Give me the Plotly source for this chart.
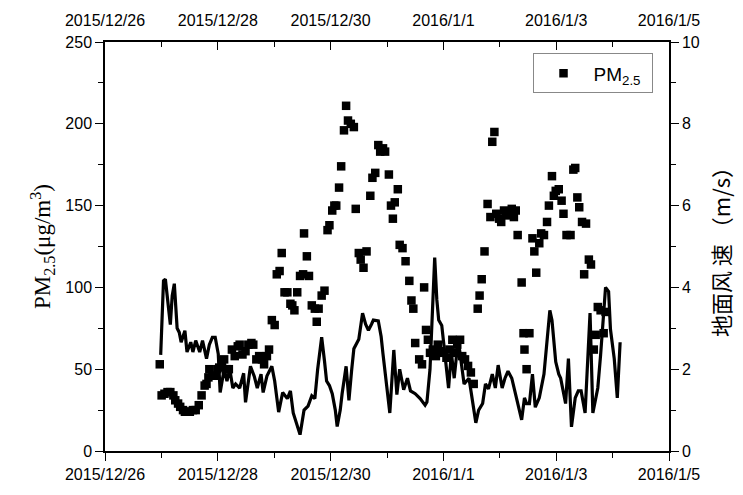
import pandas as pd
import plotly.graph_objects as go

# ---- data (hours since 2015-12-26 00:00) ----
pm_hours = [23.3, 24.1, 25.3, 26.6, 27.8, 29.1, 29.9, 31.1, 32.0, 33.2, 34.0, 35.3, 36.1, 37.4, 38.6,
            39.9, 41.1, 42.4, 43.2, 44.0, 44.4, 45.7, 46.9, 47.8, 48.6, 49.8, 50.7, 51.9, 52.7, 54.0,
            55.2, 56.5, 57.3, 58.5, 59.8, 61.0, 62.3, 63.1, 64.4, 65.6, 66.8, 67.7, 68.9, 69.8, 71.0,
            72.2, 73.1, 74.3, 75.2, 76.4, 77.6, 78.9, 79.7, 80.6, 81.8, 83.0, 84.3, 84.7, 85.9, 86.8,
            88.0, 89.3, 90.1, 90.9, 92.2, 93.4, 94.7, 95.5, 96.7, 97.6, 98.4, 99.6, 100.5, 101.7, 102.6,
            103.4, 104.6, 105.9, 106.7, 108.0, 108.8, 110.0, 111.3, 112.9, 113.8, 115.0, 116.3, 117.1,
            118.3, 119.2, 120.8, 121.7, 122.5, 123.3, 124.6, 125.4, 126.6, 127.9, 129.5, 130.4, 131.2,
            132.0, 133.7, 134.9, 135.8, 136.6, 137.4, 138.3, 139.5, 140.8, 141.6, 142.8, 144.1, 145.3,
            146.6, 147.8, 149.1, 149.9, 151.1, 152.0, 153.2, 154.5, 155.7, 156.9, 158.6, 159.4, 160.3,
            161.5, 162.8, 164.0, 164.8, 165.7, 166.5, 167.7, 168.6, 169.8, 170.7, 171.9, 173.1, 174.0,
            174.8, 175.6, 177.3, 178.1, 178.5, 179.4, 180.6, 181.9, 182.7, 183.5, 184.8, 185.6, 186.8,
            188.1, 188.9, 190.2, 191.0, 191.8, 193.1, 194.3, 195.1, 196.4, 198.1, 199.3, 200.1, 201.0,
            201.8, 203.0, 203.9, 204.7, 205.9, 206.8, 208.0, 208.8, 209.7, 210.9, 212.2, 213.0]
pm25 = [53, 34, 35, 36, 36, 34, 31, 29, 27, 25, 24, 24, 24, 25, 25,
        28, 34, 40, 41, 45, 50, 46, 46, 50, 51, 55, 56, 50, 50, 62,
        58, 64, 65, 59, 61, 65, 66, 65, 56, 58, 56, 53, 58, 62, 80,
        77, 108, 110, 121, 97, 97, 90, 89, 86, 97, 107, 108, 133, 119, 107,
        89, 87, 79, 87, 95, 98, 135, 138, 147, 150, 150, 161, 174, 196, 211,
        202, 200, 198, 148, 121, 117, 112, 122, 156, 167, 170, 187, 183,
        185, 183, 169, 150, 142, 152, 160, 126, 124, 116, 104, 92, 87,
        66, 56, 53, 100, 74, 68, 60, 62, 58, 65, 61, 60, 57,
        62, 68, 60, 65, 68, 58, 56, 52, 48, 41, 87, 95, 105,
        122, 151, 143, 189, 195, 145, 142, 140, 147, 144, 145, 148, 143,
        147, 132, 103, 72, 62, 50, 72, 130, 122, 109, 127, 133, 132,
        140, 150, 168, 156, 159, 160, 153, 145, 132, 132, 172, 173, 155,
        149, 140, 108, 139, 117, 114, 62, 71, 88, 86, 72, 85]

wind_hours = [23.7, 24.9, 25.7, 26.6, 27.8, 28.6, 29.5, 30.7, 31.6, 32.4, 34.0, 34.9, 36.5, 37.4, 38.6,
              40.3, 41.5, 43.2, 44.4, 45.7, 46.9, 48.2, 49.0, 50.7, 51.9, 53.1, 54.4, 55.6, 57.3, 59.0,
              59.8, 61.9, 63.5, 64.8, 66.4, 67.3, 68.9, 71.0, 72.2, 73.9, 75.6, 77.6, 78.9, 80.1, 81.4,
              83.0, 84.7, 86.4, 88.0, 89.3, 90.5, 92.2, 93.4, 94.3, 95.5, 96.7, 98.0, 98.8, 100.1, 100.9,
              102.6, 103.8, 105.0, 105.9, 108.0, 108.8, 109.6, 110.9, 112.1, 113.4, 114.2, 116.3, 117.5,
              118.3, 119.6, 121.2, 122.9, 124.2, 125.4, 127.1, 128.7, 130.0, 132.0, 134.1, 136.2, 137.0,
              138.3, 139.5, 140.3, 141.2, 142.0, 143.3, 144.5, 146.2, 147.4, 148.6, 150.3, 151.6, 152.8,
              154.9, 156.5, 157.8, 159.0, 160.7, 161.9, 163.2, 164.8, 166.1, 167.3, 169.0, 170.2, 171.5,
              173.1, 174.4, 175.6, 177.3, 178.5, 179.4, 180.6, 181.9, 183.1, 184.8, 186.8, 188.1, 189.3,
              190.2, 191.8, 193.1, 193.9, 196.0, 197.2, 198.5, 200.1, 201.4, 202.6, 204.3, 205.5, 206.4,
              207.6, 209.7, 210.9, 212.2, 213.0, 214.3, 215.1, 216.7, 218.0, 219.2]
wind = [2.35, 4.16, 4.2, 3.7, 3.09, 3.8, 4.09, 3.0, 2.9, 2.66, 2.94, 2.42, 2.66, 2.42, 2.7,
        2.42, 2.7, 2.26, 2.6, 2.78, 2.78, 2.37, 1.43, 2.0, 1.71, 2.0, 1.54, 1.64, 1.54, 1.9,
        1.19, 2.07, 1.83, 1.54, 1.88, 1.43, 1.83, 2.07, 1.71, 0.95, 1.43, 1.28, 1.47, 0.93, 0.7,
        0.4, 1.0, 1.1, 1.35, 1.28, 2.0, 2.78, 2.2, 1.71, 1.6, 1.4, 1.0, 0.6, 1.0, 1.4,
        2.07, 1.24, 2.0, 2.5, 2.73, 3.0, 3.37, 3.1, 2.95, 3.1, 3.2, 3.18, 2.8,
        2.37, 1.64, 0.93, 2.47, 1.38, 2.0, 1.5, 1.78, 1.47, 1.4, 1.28, 1.12, 1.2,
        2.0, 3.6, 4.73, 3.7, 3.2, 3.07, 2.4, 1.54, 2.4, 1.78, 2.73, 2.1, 1.64,
        1.78, 1.16, 0.69, 1.0, 1.16, 1.64, 1.52, 1.88, 1.54, 2.1, 1.54, 1.78, 1.95,
        1.78, 1.47, 1.16, 0.76, 1.3, 1.16, 1.16, 1.88, 1.07, 1.3, 1.88, 2.73, 3.44,
        3.2, 2.18, 1.88, 1.78, 1.16, 2.26, 0.59, 1.3, 1.47, 1.47, 0.93, 2.18, 3.37,
        0.93, 1.54, 2.35, 3.44, 4.0, 3.9, 2.97, 2.26, 1.3, 2.66]

start = pd.Timestamp("2015-12-26 00:00")
pm_time = [start + pd.Timedelta(hours=h) for h in pm_hours]
wind_time = [start + pd.Timedelta(hours=h) for h in wind_hours]

x_range = ["2015-12-26", "2016-01-05"]
DAY = 86400000

fig = go.Figure()
fig.add_trace(go.Scatter(
    x=wind_time, y=wind, mode="lines", xaxis="x2", yaxis="y2",
    line=dict(color="black", width=3.2), showlegend=False, hoverinfo="skip"))
fig.add_trace(go.Scatter(
    x=pm_time, y=pm25, mode="markers", name="PM<sub>2.5</sub> ",
    marker=dict(symbol="square", size=8.5, color="black")))

tickfont = dict(family="Liberation Sans, Arial", size=16, color="black")

fig.update_layout(
    width=743, height=495,
    margin=dict(l=105, r=60, t=41, b=33),
    plot_bgcolor="white", paper_bgcolor="white",
    xaxis=dict(range=x_range, type="date", tick0="2015-12-26", dtick=2 * DAY,
               tickformat="%Y/%-m/%-d", ticks="outside", ticklen=8, tickwidth=1.2,
               tickcolor="black", showline=True, linecolor="black", linewidth=1.5,
               showgrid=False, zeroline=False, tickfont=tickfont,
               minor=dict(dtick=DAY, tick0="2015-12-26", ticks="outside", ticklen=5,
                          tickcolor="black", showgrid=False)),
    xaxis2=dict(range=x_range, type="date", overlaying="x", side="top", anchor="y2",
                tick0="2015-12-26", dtick=2 * DAY, tickformat="%Y/%-m/%-d",
                ticks="inside", ticklen=8, tickwidth=1.2, tickcolor="black",
                showline=True, linecolor="black", linewidth=1.5, showgrid=False,
                zeroline=False, tickfont=tickfont, ticklabelstandoff=8,
                minor=dict(dtick=DAY, tick0="2015-12-26", ticks="inside", ticklen=5,
                           tickcolor="black", showgrid=False)),
    yaxis=dict(range=[0, 250], dtick=50, ticks="outside", ticklen=8, tickwidth=1.2,
               tickcolor="black", showline=True, linecolor="black", linewidth=1.5,
               showgrid=False, zeroline=False, tickfont=tickfont,
               minor=dict(dtick=25, ticks="outside", ticklen=5, tickcolor="black",
                          showgrid=False),
               title=dict(text="PM<sub>2.5</sub>(μg/m<sup>3</sup>)",
                          font=dict(family="Liberation Serif, Times New Roman", size=23,
                                    color="black"), standoff=8)),
    yaxis2=dict(range=[0, 10], dtick=2, overlaying="y", side="right", anchor="x2",
                ticks="outside", ticklen=8, tickwidth=1.2, tickcolor="black",
                showline=True, linecolor="black", linewidth=1.5, showgrid=False,
                zeroline=False, tickfont=tickfont,
                minor=dict(dtick=1, ticks="outside", ticklen=5, tickcolor="black",
                           showgrid=False),
                title=dict(text="地面风 速 （m/s）",
                           font=dict(family="Noto Sans CJK SC", size=22, color="black"),
                           standoff=16)),
    legend=dict(x=0.758, y=0.972, xanchor="left", yanchor="top",
                bordercolor="#888888", borderwidth=1, bgcolor="white",
                font=dict(family="Liberation Sans, Arial", size=19, color="black"),
                itemwidth=50),
)

fig.write_html("out.html")
